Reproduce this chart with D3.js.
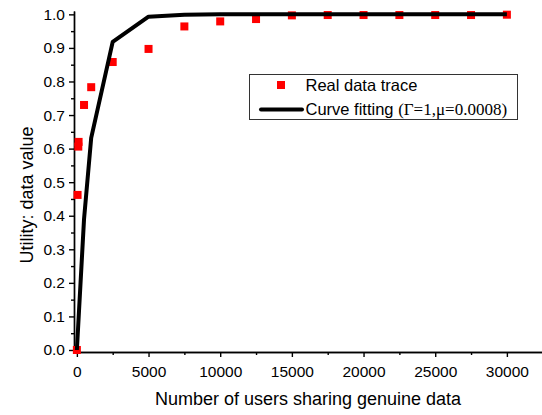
<!DOCTYPE html>
<html>
<head>
<meta charset="utf-8">
<script src="https://cdn.jsdelivr.net/npm/d3@7"></script>
<style>
  body { margin: 0; background: #fff; }
  svg { display: block; }
  .axis text { font-family: "Liberation Sans", Arial, sans-serif; font-size: 15.5px; fill: #000; }
  .axis path, .axis line { stroke: #000; stroke-width: 1.4; }
</style>
</head>
<body>
<script>
// measured data trace
const realX = [0, 50, 100, 120, 500, 1000, 2500, 5000, 7500, 10000, 12500, 15000, 17500, 20000, 22500, 25000, 27500, 30000];
const realY = [0, 0.462, 0.606, 0.620, 0.730, 0.783, 0.858, 0.897, 0.964, 0.979, 0.986, 0.997, 0.998, 0.998, 0.998, 0.998, 0.998, 0.999];

// fitted curve vertices
const fitX = [0, 500, 1000, 2500, 5000, 7500, 10000, 12500, 15000, 17500, 20000, 22500, 25000, 27500, 30000];
const fitY = [0, 0.39, 0.632, 0.918, 0.993, 0.999, 1, 1, 1, 1, 1, 1, 1, 1, 1];

const xMajor = [0, 5000, 10000, 15000, 20000, 25000, 30000];
const xMinor = [2500, 7500, 12500, 17500, 22500, 27500];
const yMajor = [0, 0.1, 0.2, 0.3, 0.4, 0.5, 0.6, 0.7, 0.8, 0.9, 1.0];
const yMinor = [0.05, 0.15, 0.25, 0.35, 0.45, 0.55, 0.65, 0.75, 0.85, 0.95];

const width = 542, height = 415;
const margin = { top: 11, right: 0, bottom: 63, left: 74 };

const svg = d3.select('body').append('svg')
    .attr('width', width)
    .attr('height', height);

const x = d3.scaleLinear()
    .domain([-200, 32450])
    .range([margin.left, width - margin.right]);

const y = d3.scaleLinear()
    .domain([-0.006, 1.01])
    .range([height - margin.bottom, margin.top]);

const bottomY = height - margin.bottom;

// minor ticks first, then major with labels
svg.append('g')
    .attr('class', 'axis')
    .attr('transform', 'translate(0,' + bottomY + ')')
    .call(d3.axisBottom(x).tickValues(xMinor).tickSize(3).tickSizeOuter(0).tickFormat(''));

svg.append('g')
    .attr('class', 'axis')
    .attr('transform', 'translate(0,' + bottomY + ')')
    .call(d3.axisBottom(x).tickValues(xMajor).tickSize(5).tickSizeOuter(0).tickPadding(9).tickFormat(d3.format('d')));

svg.append('g')
    .attr('class', 'axis')
    .attr('transform', 'translate(' + margin.left + ',0)')
    .call(d3.axisLeft(y).tickValues(yMinor).tickSize(3).tickSizeOuter(0).tickFormat(''));

svg.append('g')
    .attr('class', 'axis')
    .attr('transform', 'translate(' + margin.left + ',0)')
    .call(d3.axisLeft(y).tickValues(yMajor).tickSize(5).tickSizeOuter(0).tickPadding(4).tickFormat(d3.format('.1f')));

// axis titles
svg.append('text')
    .attr('x', 308)
    .attr('y', 405)
    .attr('text-anchor', 'middle')
    .style('font-family', '"Liberation Sans", Arial, sans-serif')
    .style('font-size', '18px')
    .text('Number of users sharing genuine data');

svg.append('text')
    .attr('transform', 'translate(32.5,195) rotate(-90)')
    .attr('text-anchor', 'middle')
    .style('font-family', '"Liberation Sans", Arial, sans-serif')
    .style('font-size', '18px')
    .text('Utility: data value');

// real data squares
const sq = 8;
svg.append('g')
    .selectAll('rect')
    .data(realX.map((d, i) => [d, realY[i]]))
    .join('rect')
    .attr('x', d => x(d[0]) - sq / 2)
    .attr('y', d => y(d[1]) - sq / 2)
    .attr('width', sq)
    .attr('height', sq)
    .attr('fill', '#ff0000');

// fitted curve
const line = d3.line()
    .x(d => x(d[0]))
    .y(d => y(d[1]));

svg.append('path')
    .datum(fitX.map((d, i) => [d, fitY[i]]))
    .attr('d', line)
    .attr('fill', 'none')
    .attr('stroke', '#000')
    .attr('stroke-width', 4)
    .attr('stroke-linejoin', 'round');

// legend
const legend = svg.append('g');
legend.append('rect')
    .attr('x', 249.5)
    .attr('y', 74.5)
    .attr('width', 268)
    .attr('height', 45)
    .attr('fill', '#fff')
    .attr('stroke', '#333')
    .attr('stroke-width', 1);

legend.append('rect')
    .attr('x', 281 - sq / 2)
    .attr('y', 85 - sq / 2)
    .attr('width', sq)
    .attr('height', sq)
    .attr('fill', '#ff0000');

legend.append('text')
    .attr('x', 305.5)
    .attr('y', 91)
    .style('font-family', '"Liberation Sans", Arial, sans-serif')
    .style('font-size', '16.5px')
    .text('Real data trace');

legend.append('line')
    .attr('x1', 261)
    .attr('x2', 302)
    .attr('y1', 109.5)
    .attr('y2', 109.5)
    .attr('stroke', '#000')
    .attr('stroke-width', 4)
    .attr('stroke-linecap', 'round');

const fitLabel = legend.append('text')
    .attr('x', 305.5)
    .attr('y', 115)
    .style('font-family', '"Liberation Sans", Arial, sans-serif')
    .style('font-size', '16.5px');
fitLabel.append('tspan').text('Curve fitting ');
fitLabel.append('tspan')
    .style('font-family', '"Liberation Serif", "Times New Roman", serif')
    .style('font-size', '17px')
    .text('(\u0393=1,\u03bc=0.0008)');
</script>
</body>
</html>
